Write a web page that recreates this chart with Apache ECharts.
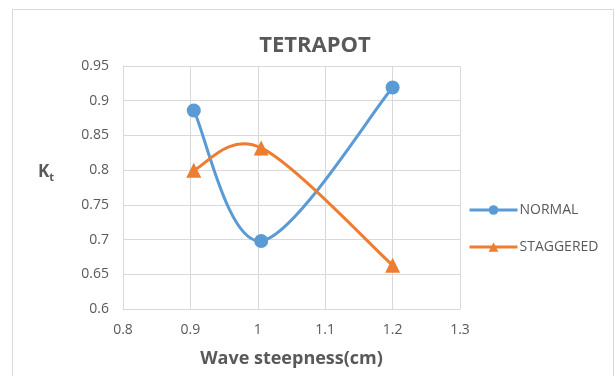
<!DOCTYPE html>
<html><head><meta charset="utf-8">
<script src="https://cdn.jsdelivr.net/npm/echarts@6/dist/echarts.min.js"></script>
<style>html,body{margin:0;padding:0;background:#fff}#c{width:615px;height:376px}</style>
</head><body><div id="c"></div>
<script>
const xTicks = [0.8, 0.9, 1.0, 1.1, 1.2, 1.3];
const normalX = [0.905, 1.005, 1.2];
const normalY = [0.886, 0.698, 0.919];
const staggeredX = [0.905, 1.005, 1.2];
const staggeredY = [0.800, 0.832, 0.663];

const BLUE = '#5B9BD5', ORANGE = '#ED7D31';
const txt = '#595959';
const font = 'Open Sans, Liberation Sans, sans-serif';

// Excel-style smoothed curve (Catmull-Rom Bezier in pixel space) through the data points
function smoothCurve(xs, ys, color) {
  return function (params, api) {
    if (params.dataIndex !== 0) return null;
    const p = xs.map((x, i) => api.coord([x, ys[i]]));
    const n = p.length, children = [];
    for (let i = 0; i < n - 1; i++) {
      const p0 = p[Math.max(i - 1, 0)], p1 = p[i], p2 = p[i + 1], p3 = p[Math.min(i + 2, n - 1)];
      children.push({
        type: 'bezierCurve',
        shape: {
          x1: p1[0], y1: p1[1], x2: p2[0], y2: p2[1],
          cpx1: p1[0] + (p2[0] - p0[0]) / 6, cpy1: p1[1] + (p2[1] - p0[1]) / 6,
          cpx2: p2[0] - (p3[0] - p1[0]) / 6, cpy2: p2[1] - (p3[1] - p1[1]) / 6
        },
        style: {stroke: color, lineWidth: 3, fill: null, lineCap: 'round'}
      });
    }
    return {type: 'group', children};
  };
}

const chart = echarts.init(document.getElementById('c'));
chart.setOption({
  animation: false,
  backgroundColor: '#fff',
  graphic: [{
    type: 'rect', shape: {x: 12.5, y: 9.5, width: 601, height: 380},
    style: {fill: 'none', stroke: '#d9d9d9', lineWidth: 1}
  }, {
    type: 'text', left: 38, top: 164,
    style: {
      text: '{b|K}{s|t}', rich: {
        b: {fontSize: 17, fontWeight: 'bold', fill: txt, fontFamily: font},
        s: {fontSize: 11, fontWeight: 'bold', fill: txt, fontFamily: font, padding: [10, 0, 0, 0]}
      }
    }
  }],
  title: {
    text: 'TETRAPOT', left: 310, top: 30, textAlign: 'center',
    textStyle: {fontSize: 22, fontWeight: 'bold', color: txt, fontFamily: font}
  },
  legend: {
    orient: 'vertical', left: 463, top: 198, itemGap: 23, itemWidth: 48, itemHeight: 12,
    textStyle: {fontSize: 14, color: txt, fontFamily: font, padding: [0, 0, 0, -3]},
    data: [
      {name: 'NORMAL', lineStyle: {color: BLUE, width: 3, opacity: 1}},
      {name: 'STAGGERED', lineStyle: {color: ORANGE, width: 3, opacity: 1}}
    ]
  },
  grid: {left: 123, right: 155, top: 66, bottom: 67, containLabel: false},
  xAxis: {
    type: 'value', min: 0.8, max: 1.3, interval: 0.1,
    name: 'Wave steepness(cm)', nameLocation: 'middle', nameGap: 41,
    nameTextStyle: {fontSize: 18, fontWeight: 'bold', color: txt, fontFamily: font},
    axisLine: {show: true, lineStyle: {color: '#d9d9d9', width: 1}},
    axisTick: {show: false},
    axisLabel: {color: txt, fontSize: 14, fontFamily: font, margin: 14,
      formatter: v => { const s = xTicks.find(t => Math.abs(t - v) < 1e-6); return String(+(s ?? v).toFixed(1)); }},
    splitLine: {show: true, lineStyle: {color: '#d9d9d9', width: 1}}
  },
  yAxis: {
    type: 'value', min: 0.6, max: 0.95, interval: 0.05,
    axisLine: {show: true, lineStyle: {color: '#d9d9d9', width: 1}},
    axisTick: {show: false},
    axisLabel: {color: txt, fontSize: 14, fontFamily: font, margin: 14,
      formatter: v => String(+v.toFixed(2))},
    splitLine: {show: true, lineStyle: {color: '#d9d9d9', width: 1}}
  },
  series: [{
    type: 'custom', silent: true, z: 1,
    data: normalX.map((x, i) => [x, normalY[i]]),
    renderItem: smoothCurve(normalX, normalY, BLUE)
  }, {
    type: 'custom', silent: true, z: 1,
    data: staggeredX.map((x, i) => [x, staggeredY[i]]),
    renderItem: smoothCurve(staggeredX, staggeredY, ORANGE)
  }, {
    name: 'NORMAL', type: 'line', z: 3,
    data: normalX.map((x, i) => [x, normalY[i]]),
    symbol: 'circle', symbolSize: 14,
    lineStyle: {color: BLUE, width: 3, opacity: 0},
    itemStyle: {color: BLUE}
  }, {
    name: 'STAGGERED', type: 'line', z: 3,
    data: staggeredX.map((x, i) => [x, staggeredY[i]]),
    symbol: 'triangle', symbolSize: 15,
    lineStyle: {color: ORANGE, width: 3, opacity: 0},
    itemStyle: {color: ORANGE}
  }]
});
</script></body></html>
